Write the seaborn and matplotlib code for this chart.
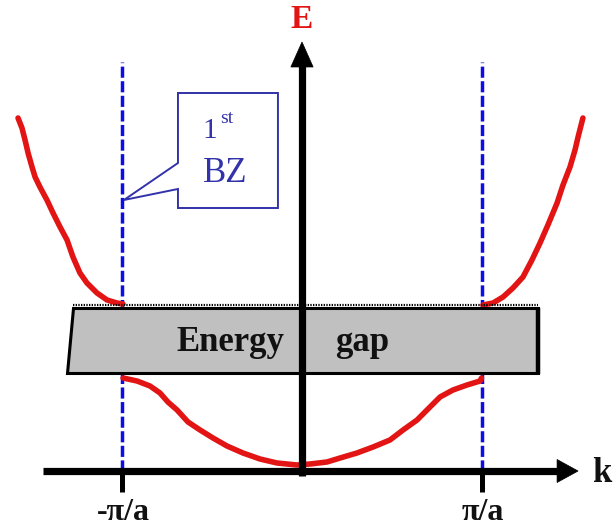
import matplotlib
matplotlib.use("Agg")
import matplotlib.pyplot as plt
from matplotlib.patches import Polygon
import pandas as pd
import seaborn as sns

# Wave vector k in units of pi/a, energy E in arbitrary units
k_lower = [-0.997, -0.919, -0.847, -0.791, -0.747, -0.696, -0.635, -0.568, -0.496, -0.418,
           -0.329, -0.234, -0.139, -0.028, 0.045, 0.139, 0.212, 0.306, 0.396, 0.490,
           0.563, 0.641, 0.713, 0.769, 0.841, 0.919, 0.992, 1.0]
E_lower = [0.93, 0.90, 0.85, 0.78, 0.69, 0.61, 0.49, 0.41, 0.33, 0.25,
           0.18, 0.12, 0.08, 0.06, 0.07, 0.09, 0.13, 0.18, 0.24, 0.31,
           0.41, 0.51, 0.64, 0.74, 0.81, 0.86, 0.90, 0.93]

k_upper_left = [-1.582, -1.560, -1.543, -1.526, -1.504, -1.487, -1.460, -1.421, -1.387,
                -1.348, -1.309, -1.276, -1.237, -1.198, -1.142, -1.086, -1.031, -0.997]
E_upper_left = [3.53, 3.43, 3.31, 3.18, 3.04, 2.94, 2.84, 2.71, 2.58,
                2.44, 2.31, 2.14, 1.98, 1.88, 1.78, 1.71, 1.68, 1.67]

k_upper_right = [1.008, 1.064, 1.120, 1.175, 1.231, 1.281, 1.326, 1.370, 1.421,
                 1.454, 1.493, 1.521, 1.538, 1.565]
E_upper_right = [1.66, 1.68, 1.74, 1.83, 1.94, 2.11, 2.28, 2.46, 2.68,
                 2.86, 3.04, 3.21, 3.34, 3.53]

zone_edges = [-1.0, 1.0]
zone_labels = ["-\u03c0/a", "\u03c0/a"]

gap_bottom = 0.93
gap_top = 1.68

RED = "#e31414"
BLUE = "#0c0ce6"
NAVY = "#3232aa"
INK = "#111111"
SERIF = "Liberation Serif"

sns.set_theme(style="white")
fig = plt.figure(figsize=(6.16, 5.30), dpi=100)
ax = fig.add_axes([0, 0, 1, 1])
ax.set_xlim(-302 / 179.5, 314 / 179.5)
ax.set_ylim(-0.59, 4.71)
ax.axis("off")

# Brillouin-zone boundaries
for kz in zone_edges:
    ax.plot([kz, kz], [0.0, 4.09], color=BLUE, lw=2.5, dashes=[3.2, 1.0], zorder=1)

# Energy bands
bands = pd.concat([
    pd.DataFrame({"k": k_lower, "E": E_lower, "band": "lower"}),
    pd.DataFrame({"k": k_upper_left, "E": E_upper_left, "band": "upper_left"}),
    pd.DataFrame({"k": k_upper_right, "E": E_upper_right, "band": "upper_right"}),
])
sns.lineplot(data=bands, x="k", y="E", units="band", estimator=None, sort=False,
             color=RED, lw=4.0, ax=ax, legend=False, zorder=2,
             solid_joinstyle="round", solid_capstyle="round")

# Energy gap box
inset = 0.05
box = Polygon([(-1.276, gap_top - inset), (1.315, gap_top - inset),
               (1.315, gap_bottom + inset), (-1.309, gap_bottom + inset)],
              closed=True, facecolor="#c0c0c0", edgecolor="black", lw=2.2, zorder=3)
ax.add_patch(box)
ax.plot([1.315, 1.315], [gap_bottom + inset - 0.01, gap_top - inset], color="black",
        lw=3.2, solid_capstyle="butt", zorder=3)
ax.plot([-1.276, 1.315], [gap_top - inset + 0.03] * 2, color="black", lw=1.6,
        ls=(0, (0.6, 0.6)), zorder=3)
ax.text(-0.396, 1.20, "Energy", ha="center", va="baseline", fontsize=25,
        fontweight="bold", family=SERIF, color=INK, zorder=5)
ax.text(0.334, 1.20, "gap", ha="center", va="baseline", fontsize=25,
        fontweight="bold", family=SERIF, color=INK, zorder=5)

# Axes with arrow heads
ax.plot([-1.443, 1.44], [0, 0], color="black", lw=5.2, solid_capstyle="butt", zorder=4)
ax.add_patch(Polygon([(1.421, 0.115), (1.538, 0.0), (1.421, -0.115)], closed=True,
                     facecolor="black", edgecolor="black", lw=0.5, zorder=4))
ax.plot([0, 0], [-0.05, 4.06], color="black", lw=5.2, solid_capstyle="butt", zorder=4)
ax.add_patch(Polygon([(-0.062, 4.04), (0.0, 4.29), (0.062, 4.04)], closed=True,
                     facecolor="black", edgecolor="black", lw=0.5, zorder=4))

for kz, lab in zip(zone_edges, zone_labels):
    ax.plot([kz, kz], [0.0, -0.21], color="black", lw=3.6, solid_capstyle="butt", zorder=4)
    ax.text(kz + 0.005, -0.42, lab, ha="center", va="center", fontsize=23,
            fontweight="bold", family=SERIF, color=INK)

ax.text(1.671, -0.03, "k", ha="center", va="center", fontsize=25,
        fontweight="bold", family=SERIF, color=INK)
ax.text(0.0, 4.52, "E", ha="center", va="center", fontsize=24,
        fontweight="bold", family=SERIF, color=RED)

# Callout marking the first Brillouin zone
callout = Polygon([(-0.691, 3.78), (-0.134, 3.78), (-0.134, 2.63), (-0.691, 2.63),
                   (-0.691, 2.82), (-0.719, 2.81), (-0.992, 2.71), (-0.691, 3.08)],
                  closed=True, facecolor="white", edgecolor=NAVY, lw=1.4, zorder=3)
ax.add_patch(callout)
ax.text(-0.513, 3.33, "1", ha="center", va="baseline", fontsize=21,
        family=SERIF, color=NAVY, zorder=5)
ax.text(-0.457, 3.48, "st", ha="left", va="baseline", fontsize=14,
        family=SERIF, color=NAVY, zorder=5)
ax.text(-0.429, 2.89, "BZ", ha="center", va="baseline", fontsize=25,
        family=SERIF, color=NAVY, zorder=5)

fig.savefig("out.png", dpi=100, facecolor="white")
